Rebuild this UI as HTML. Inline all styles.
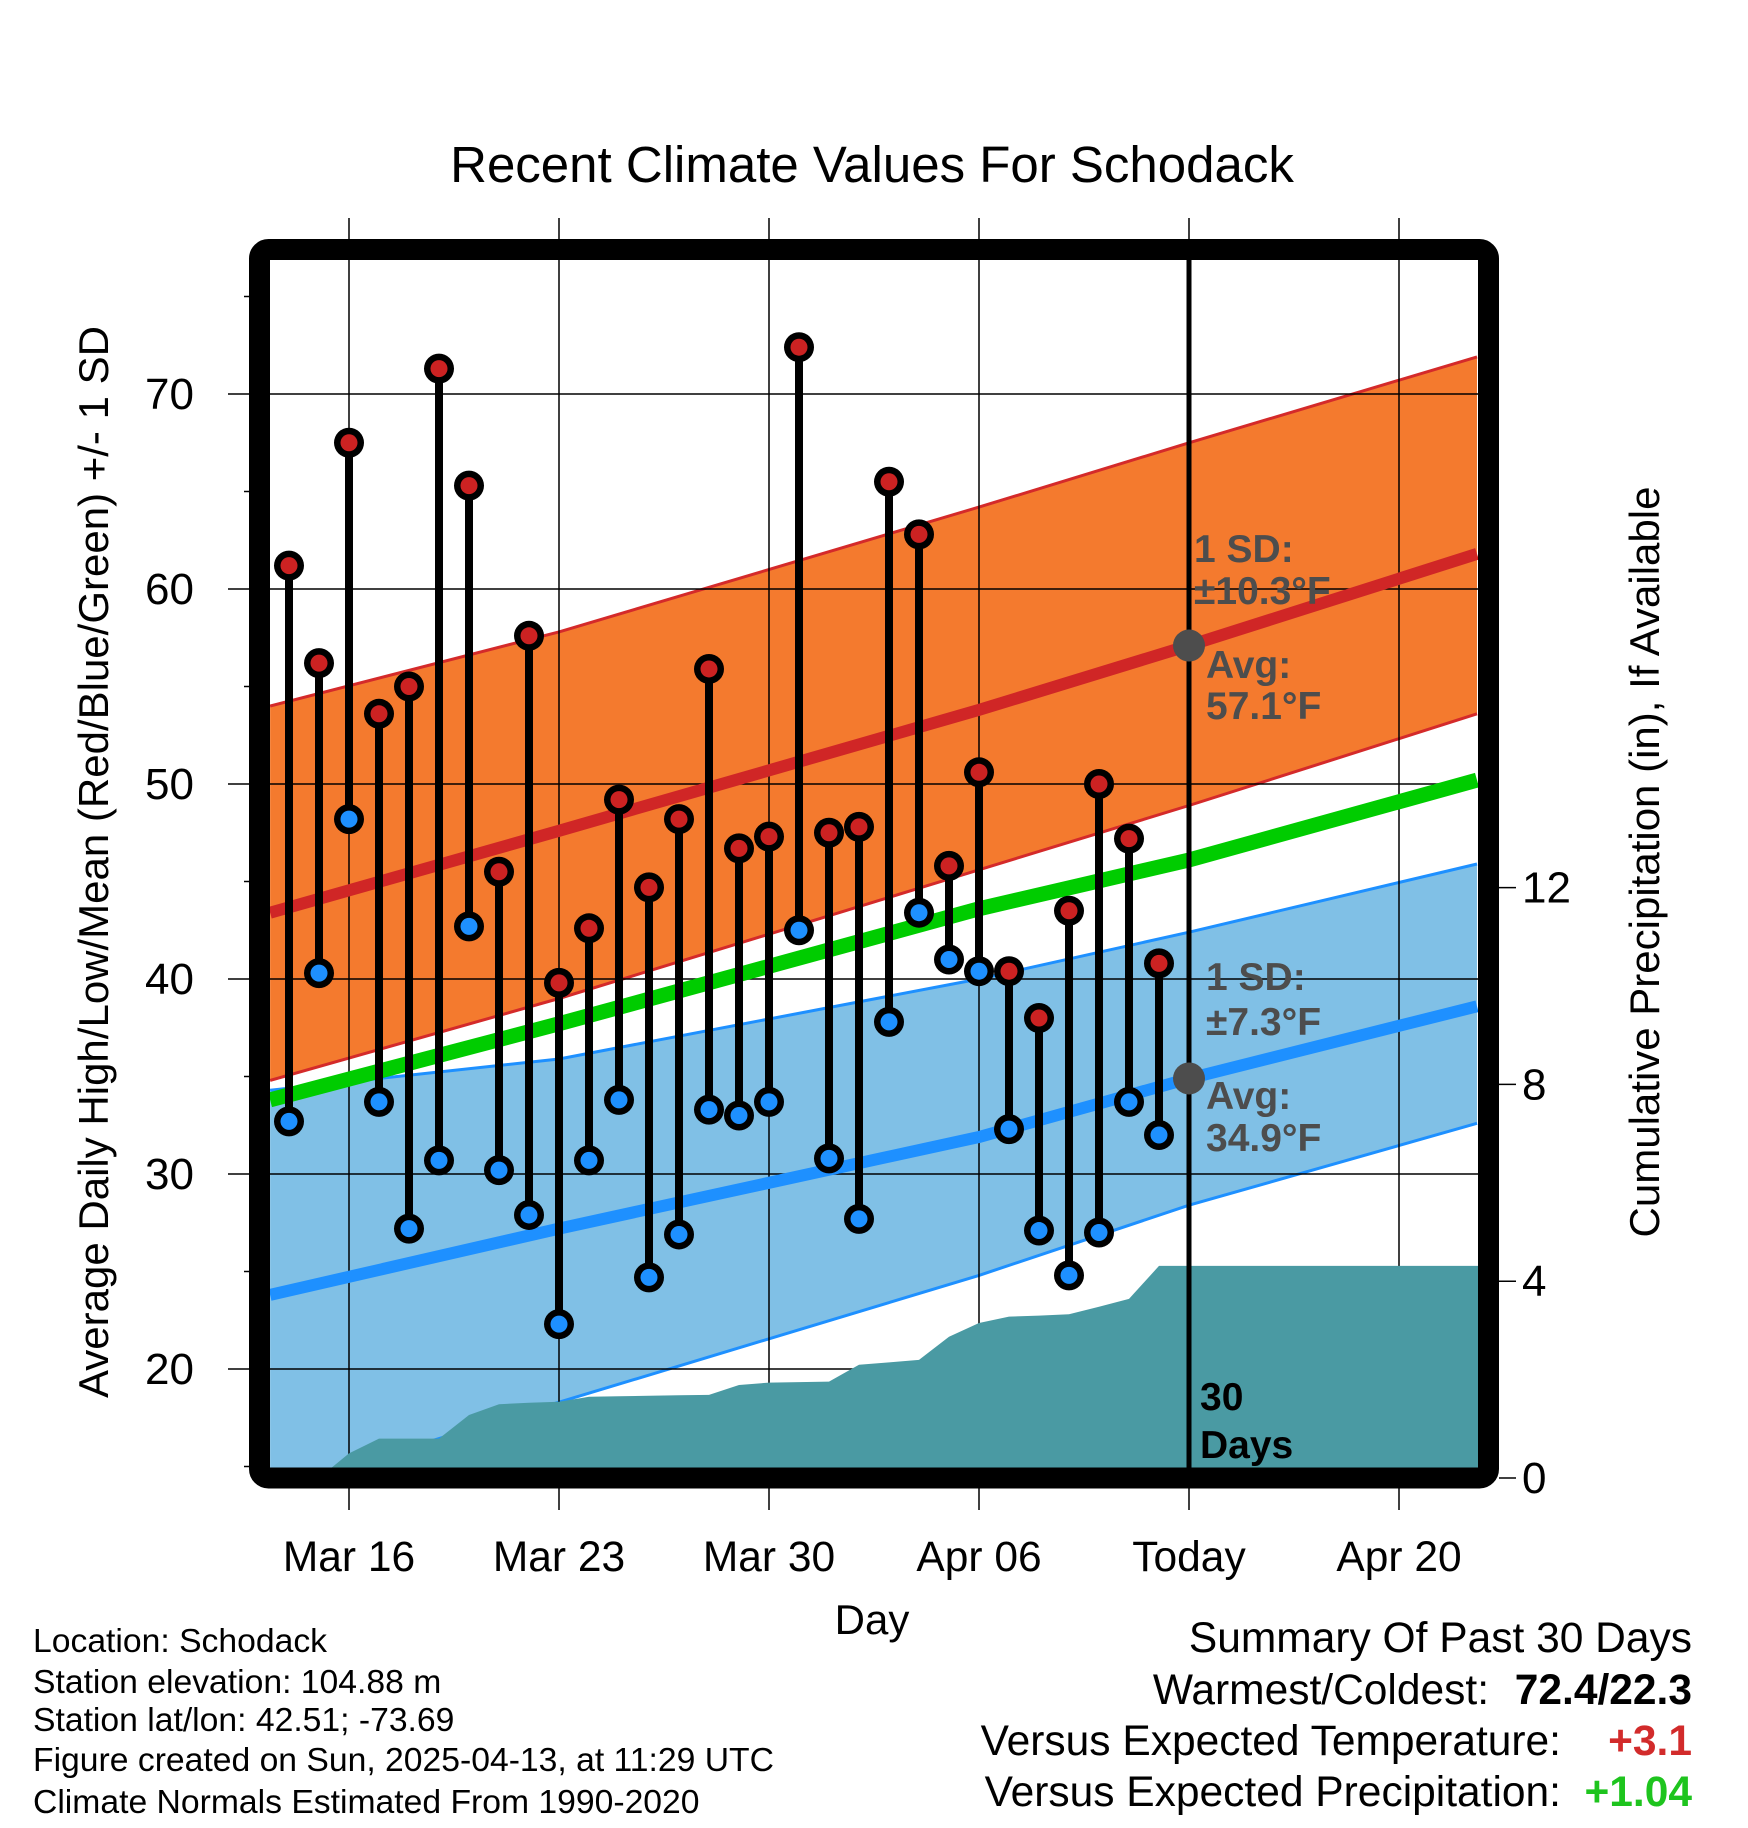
<!DOCTYPE html>
<html><head><meta charset="utf-8"><style>
html,body{margin:0;padding:0;background:#fff;}
svg{display:block;font-family:"Liberation Sans",Arial,sans-serif;}
</style></head><body>
<svg id="chart" width="1748" height="1828" viewBox="0 0 1748 1828" xmlns="http://www.w3.org/2000/svg">
<defs><clipPath id="plotclip"><rect x="270" y="260" width="1208" height="1208"/></clipPath></defs>
<text x="872" y="182" font-size="51" text-anchor="middle">Recent Climate Values For Schodack</text>
<g id="plot" clip-path="url(#plotclip)"></g>
<g id="axes"></g>
<text transform="translate(108,862) rotate(-90)" font-size="42" text-anchor="middle">Average Daily High/Low/Mean (Red/Blue/Green) +/- 1 SD</text>
<text transform="translate(1659,862) rotate(-90)" font-size="42" text-anchor="middle">Cumulative Precipitation (in), If Available</text>
<text x="872" y="1634" font-size="42" text-anchor="middle">Day</text>
<g font-size="33.7">
<text x="33" y="1652">Location: Schodack</text>
<text x="33" y="1693">Station elevation: 104.88 m</text>
<text x="33" y="1731">Station lat/lon: 42.51; -73.69</text>
<text x="33" y="1771">Figure created on Sun, 2025-04-13, at 11:29 UTC</text>
<text x="33" y="1813">Climate Normals Estimated From 1990-2020</text>
</g>
<g font-size="42.5">
<text x="1692" y="1652" text-anchor="end">Summary Of Past 30 Days</text>
<text x="1489" y="1704" text-anchor="end">Warmest/Coldest:</text>
<text x="1692" y="1704" text-anchor="end" font-weight="bold">72.4/22.3</text>
<text x="1561" y="1755" text-anchor="end">Versus Expected Temperature:</text>
<text x="1692" y="1755" text-anchor="end" font-weight="bold" fill="#d22b2b">+3.1</text>
<text x="1561" y="1806" text-anchor="end">Versus Expected Precipitation:</text>
<text x="1692" y="1806" text-anchor="end" font-weight="bold" fill="#1ec41e">+1.04</text>
</g>
</svg>
<script>
// daily observations, index 0 = Mar 14 ... 29 = Apr 12
const highs = [61.2,56.2,67.5,53.6,55.0,71.3,65.3,45.5,57.6,39.8,42.6,49.2,44.7,48.2,55.9,46.7,47.3,72.4,47.5,47.8,65.5,62.8,45.8,50.6,40.4,38.0,43.5,50.0,47.2,40.8];
const lows = [32.7,40.3,48.2,33.7,27.2,30.7,42.7,30.2,27.9,22.3,30.7,33.8,24.7,26.9,33.3,33.0,33.7,42.5,30.8,27.7,37.8,43.4,41.0,40.4,32.3,27.1,24.8,27.0,33.7,32.0];
const precip = [0,0,0.5,0.8,0.8,0.8,1.28,1.5,1.53,1.55,1.65,1.66,1.67,1.68,1.69,1.89,1.94,1.95,1.96,2.3,2.35,2.4,2.87,3.15,3.28,3.3,3.33,3.48,3.64,4.31];
// climate normals, day offsets from Mar 14
const normDays = [-0.63,9,23,30,39.6];
const avgHigh = [43.4,47.6,53.8,57.1,61.8];
const highUpper = [54.0,57.8,64.2,67.5,71.9];
const highLower = [34.8,39.0,45.6,48.9,53.6];
const avgMean = [33.8,37.7,43.6,46.1,50.2];
const avgLow = [23.8,27.2,31.9,34.9,38.6];
const lowUpper = [34.3,35.9,40.0,42.4,45.9];
const lowLower = [13.8,18.3,24.8,28.4,32.6];
const xTickDays = [2,9,16,23,30,37];
const xTickLabels = ["Mar 16","Mar 23","Mar 30","Apr 06","Today","Apr 20"];
const yTicks = [20,30,40,50,60,70];
const yMinor = [15,25,35,45,55,65,75];
const pTicks = [0,4,8,12];
const todayDay = 30;
const rightDay = 39.6;

const NS="http://www.w3.org/2000/svg";
const xS=d=>289+30*d;
const yT=v=>1759-19.5*v;
const yP=p=>1478-49.2*p;
const plot=document.getElementById('plot');
const axes=document.getElementById('axes');
const svg=document.getElementById('chart');
function mk(tag,attrs,parent){const e=document.createElementNS(NS,tag);for(const k in attrs)e.setAttribute(k,attrs[k]);(parent||plot).appendChild(e);return e;}
function pts(xs,ys){return xs.map((d,i)=>xS(d).toFixed(1)+','+yT(ys[i]).toFixed(1));}

let e=mk('polygon',{points:pts(normDays,highUpper).concat(pts(normDays,highLower).reverse()).join(' '),fill:'#f47a2e'});


e=mk('polygon',{points:pts(normDays,lowUpper).concat(pts(normDays,lowLower).reverse()).join(' '),fill:'#80c0e6'});


[[highUpper,'#d42a2a','high-upper-edge'],[highLower,'#d42a2a','high-lower-edge'],[lowUpper,'#1e90ff','low-upper-edge'],[lowLower,'#1e90ff','low-lower-edge']].forEach(([arr,c,n])=>{
  const l=mk('polyline',{points:pts(normDays,arr).join(' '),fill:'none',stroke:c,'stroke-width':3});
  
  
});
yTicks.forEach(v=>{const g=mk('line',{x1:228,x2:1478,y1:yT(v),y2:yT(v),stroke:'#000','stroke-width':1.5},svg.insertBefore(document.createElementNS(NS,'g'),axes));
  
  });
xTickDays.forEach(d=>{const g=mk('line',{x1:xS(d),x2:xS(d),y1:218,y2:1510,stroke:'#000','stroke-width':1.5},svg.insertBefore(document.createElementNS(NS,'g'),axes));
  
  });
const ppts=[xS(-1)+','+yP(0)];
precip.forEach((p,i)=>ppts.push(xS(i)+','+yP(p).toFixed(1)));
ppts.push(xS(rightDay+1)+','+yP(precip[precip.length-1]).toFixed(1));
ppts.push(xS(rightDay+1)+','+yP(0));
e=mk('polygon',{points:ppts.join(' '),fill:'#4a9aa3'},axes);
e.setAttribute('clip-path','url(#plotclip)');


[[avgHigh,'#d02626','avg-high-line',12],[avgLow,'#1e90ff','avg-low-line',12],[avgMean,'#00cc00','avg-mean-line',15]].forEach(([arr,c,n,w])=>{
  const l=mk('polyline',{points:pts(normDays,arr).join(' '),fill:'none',stroke:c,'stroke-width':w,'clip-path':'url(#plotclip)'},axes);
  
  
});
highs.forEach((h,i)=>{
  const x=xS(i);
  const s=mk('line',{x1:x,x2:x,y1:yT(h),y2:yT(lows[i]),stroke:'#000','stroke-width':8},axes);
  
  
  [[h,'#cc2222','high-marker'],[lows[i],'#1e90ff','low-marker']].forEach(([v,c,n])=>{
    const o=mk('circle',{cx:x,cy:yT(v),r:15,fill:'#000'},axes);
    
    
    const m=mk('circle',{cx:x,cy:yT(v),r:8.5,fill:c},axes);
    
    
  });
});
e=mk('line',{x1:xS(todayDay),x2:xS(todayDay),y1:260,y2:1468,stroke:'#000','stroke-width':5},axes);


[[avgHigh,'avg-high-dot'],[avgLow,'avg-low-dot']].forEach(([arr,n])=>{
  const c=mk('circle',{cx:xS(todayDay),cy:yT(arr[3]),r:16,fill:'#4d4d4d'},axes);
  
  
});
[["1 SD:",1194,562,'high-sd-label'],["±10.3°F",1194,604,'high-sd-value'],["Avg:",1206,678,'high-avg-label'],["57.1°F",1206,719,'high-avg-value'],
 ["1 SD:",1206,990,'low-sd-label'],["±7.3°F",1206,1035,'low-sd-value'],["Avg:",1206,1109,'low-avg-label'],["34.9°F",1206,1151,'low-avg-value']].forEach(([t,x,y,n])=>{
  const tx=mk('text',{x:x,y:y,'font-size':39,'font-weight':'bold',fill:'#4d4d4d'},axes);tx.textContent=t;
  
  
});
[["30",1410,'days-count'],["Days",1458,'days-label']].forEach(([t,y,n])=>{
  const tx=mk('text',{x:1200,y:y,'font-size':39,'font-weight':'bold',fill:'#000'},axes);tx.textContent=t;
  
  
});
e=mk('rect',{x:259.5,y:249.5,width:1229,height:1228.5,rx:9,fill:'none',stroke:'#000','stroke-width':21},axes);


yMinor.forEach(v=>{const t=mk('line',{x1:244,x2:250,y1:yT(v),y2:yT(v),stroke:'#000','stroke-width':1.5},axes);
  
  });
yTicks.forEach(v=>{const t=mk('text',{x:194,y:yT(v)+15,'font-size':44,'text-anchor':'end'},axes);t.textContent=v;
  
  });
xTickDays.forEach((d,i)=>{const t=mk('text',{x:xS(d),y:1571,'font-size':42.5,'text-anchor':'middle'},axes);t.textContent=xTickLabels[i];
  
  });
pTicks.forEach(p=>{
  const l=mk('line',{x1:1499,x2:1516,y1:yP(p),y2:yP(p),stroke:'#000','stroke-width':1.5},axes);
  
  
  const t=mk('text',{x:1522,y:yP(p)+15,'font-size':44},axes);t.textContent=p;
  
  
});
</script>
</body></html>
